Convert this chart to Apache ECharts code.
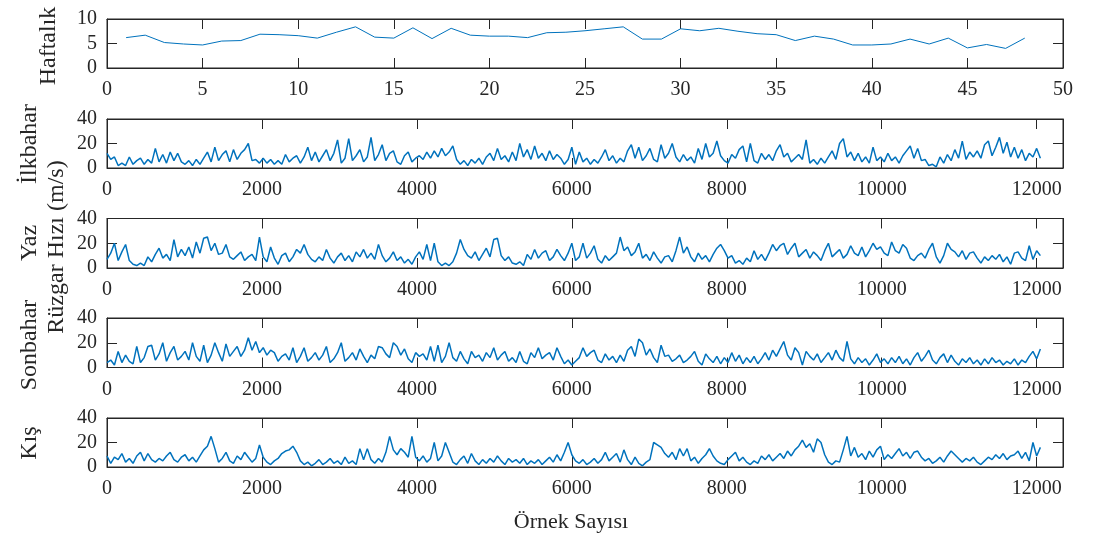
<!DOCTYPE html>
<html>
<head>
<meta charset="utf-8">
<script src="https://cdn.jsdelivr.net/npm/echarts@6/dist/echarts.min.js"></script>
<style>
html,body{margin:0;padding:0;background:#fff;}
#chart{width:1100px;height:545px;}
</style>
</head>
<body>
<div id="chart"></div>
<script>
// ---- data ----
const weeklyMeans = [6.2,6.7,5.2,4.9,4.7,5.5,5.6,6.9,6.8,6.6,6.1,7.3,8.4,6.3,6.1,8.2,6.0,8.1,6.7,6.5,6.5,6.2,7.2,7.3,
  7.6,8.0,8.4,5.9,5.9,8.0,7.6,8.1,7.5,7.0,6.8,5.6,6.5,5.9,4.7,4.7,4.9,5.9,4.9,6.1,4.1,4.8,4.0,6.1];

// one value read every SAMPLE_STEP samples
const SAMPLE_STEP = 48;

const springSpeeds = [
  12,7,9,2,4,2,9,3,6,8,3,7,4,16,5,11,4,13,6,12,5,
  3,6,2,7,3,8,13,5,17,6,11,14,5,15,7,12,15,20,6,7,4,
  8,4,7,3,6,3,11,5,8,10,4,9,17,6,13,5,10,15,6,12,23,
  4,8,24,6,10,15,5,9,25,6,11,19,6,12,14,5,3,10,13,5,8,
  10,7,13,8,14,9,16,10,13,18,7,3,6,2,7,4,8,3,9,12,6,
  16,7,10,5,13,6,20,9,15,7,18,8,12,6,14,7,11,8,3,7,17,
  3,13,5,8,3,7,4,9,15,6,10,4,8,5,14,19,8,17,6,10,16,
  7,5,19,8,12,20,9,5,11,6,9,4,16,7,20,9,12,22,10,6,4,
  11,8,15,18,5,20,6,4,12,7,11,6,14,19,9,12,5,8,11,7,23,
  4,7,3,8,4,9,14,7,20,24,9,13,6,12,5,9,4,17,6,9,5,
  12,6,9,4,10,14,18,8,16,6,7,2,3,1,9,4,11,6,15,8,22,
  7,13,9,14,8,19,22,10,17,25,12,21,9,17,8,15,6,12,9,16,8
];

const summerSpeeds = [
  7,12,20,6,13,19,6,3,2,4,2,9,5,11,16,8,11,6,23,9,15,
  10,17,8,21,12,24,25,14,20,11,12,19,9,7,10,13,6,9,11,6,25,
  9,5,17,8,3,10,12,5,9,15,12,19,11,7,5,9,6,15,8,4,9,
  12,6,10,5,13,9,15,8,12,7,19,10,5,8,13,6,9,4,7,3,9,
  13,7,19,6,20,5,2,4,2,5,12,23,15,10,8,13,6,11,16,9,23,
  24,10,6,9,4,3,5,2,11,7,15,8,12,14,6,9,15,10,6,12,20,
  6,9,20,8,12,18,7,4,10,6,9,12,25,14,17,10,13,20,8,11,6,
  13,8,4,9,10,5,14,25,12,17,9,5,12,7,10,5,11,16,19,14,8,
  10,4,6,3,8,5,14,7,11,6,12,19,14,18,20,11,16,20,9,12,15,
  8,13,10,6,14,20,9,12,15,8,11,18,12,10,17,9,14,20,15,17,12,
  10,21,14,12,19,16,8,6,10,12,8,15,20,9,4,10,20,15,13,9,14,
  7,12,13,8,4,9,6,10,7,11,5,9,3,12,13,8,6,18,7,14,10
];

const autumnSpeeds = [
  4,6,2,13,4,10,5,3,17,4,8,17,18,6,11,20,5,12,17,6,9,
  13,6,20,9,5,18,4,10,20,12,5,19,9,13,17,9,14,24,14,21,12,
  16,10,14,12,5,9,11,6,16,4,9,16,5,8,12,6,10,17,4,7,12,
  20,5,8,12,6,15,9,4,10,7,17,16,11,8,20,17,10,15,7,4,12,
  9,11,6,17,5,18,4,9,20,8,5,13,7,3,13,8,10,5,12,8,16,
  6,10,13,5,8,4,13,5,3,12,8,16,7,10,12,6,16,9,3,6,2,
  5,8,16,9,12,14,6,4,11,6,9,4,10,5,14,17,9,23,20,10,15,
  8,4,18,9,10,5,7,10,4,6,9,13,5,2,11,7,4,9,3,8,4,
  12,5,10,3,8,4,9,3,7,12,6,14,9,15,21,10,6,16,12,2,13,
  9,6,11,4,8,12,6,14,8,5,21,7,3,8,4,7,2,6,11,4,7,
  3,8,4,9,3,7,2,8,12,5,9,14,6,3,8,11,4,10,5,2,7,
  4,8,3,6,2,7,3,8,4,6,2,5,3,7,2,6,4,9,13,7,15
];

const winterSpeeds = [
  9,3,8,6,11,4,7,3,9,12,5,11,6,4,7,5,9,12,6,4,8,
  10,5,8,4,9,14,17,25,15,4,7,12,5,3,9,6,12,8,4,7,18,
  8,4,2,5,7,11,13,14,17,12,5,2,4,1,3,6,2,4,7,3,5,
  2,8,3,5,2,15,6,15,6,3,7,4,12,25,14,10,15,12,8,25,8,
  5,9,4,7,20,5,9,20,12,4,2,6,9,3,11,5,2,6,3,7,4,
  9,5,2,7,4,6,3,7,2,5,3,6,2,5,8,4,10,5,12,20,10,
  5,3,6,2,4,7,3,6,12,5,8,11,4,14,6,2,8,3,1,4,6,
  20,18,16,11,8,12,6,15,9,15,5,8,3,7,10,15,9,5,3,2,6,
  9,12,5,8,4,2,5,3,9,6,10,5,8,11,7,13,9,14,17,22,16,
  19,12,23,20,10,4,2,5,4,14,25,9,16,8,11,6,13,8,14,17,6,
  10,7,11,15,9,12,7,12,13,8,5,7,3,5,8,4,9,13,10,7,4,
  7,5,8,4,2,5,8,6,10,7,11,6,9,10,13,7,12,5,20,9,16
];

const weekTicks = {min: 0, max: 50, interval: 5};
const sampleTicks = {min: 0, max: 12340, interval: 2000};
const weekValueTicks = {min: 0, max: 10, interval: 5};
const speedTicks = {min: 0, max: 40, interval: 20};

const panelLabels = ['Haftalık', 'İlkbahar', 'Yaz', 'Sonbahar', 'Kış'];
const commonYLabel = 'Rüzgar Hızı (m/s)';
const commonXLabel = 'Örnek Sayısı';

// ---- chart ----
const AX = '#262626';
const FONT = '"Liberation Serif", "Times New Roman", serif';
const LINE = '#0072BD';

const panels = [
  {top: 19,  height: 49, x: weekTicks,   y: weekValueTicks, labelX: 49, labelY: 46},
  {top: 119, height: 49, x: sampleTicks, y: speedTicks, labelX: 30, labelY: 144},
  {top: 218.5, height: 49.5, x: sampleTicks, y: speedTicks, labelX: 30, labelY: 243},
  {top: 318, height: 49.5, x: sampleTicks, y: speedTicks, labelX: 30, labelY: 345},
  {top: 418, height: 49, x: sampleTicks, y: speedTicks, labelX: 30, labelY: 443}
];

const grid = [], xAxis = [], yAxis = [], graphic = [];
function txtStyle(text, size) {
  return {text: text, font: size + 'px ' + FONT, fill: AX,
    align: 'center', verticalAlign: 'middle', textAlign: 'center', textVerticalAlign: 'middle'};
}
panels.forEach((p, i) => {
  grid.push({left: 107, right: 37, top: p.top, height: p.height, containLabel: false,
    outerBoundsMode: 'none', show: true, borderColor: AX, borderWidth: 1, backgroundColor: 'transparent'});
  const iv = p.x.interval, yiv = p.y.interval;
  const tick = {show: true, inside: true, length: 10, lineStyle: {color: AX, width: 1}};
  const line = {show: true, onZero: false, lineStyle: {color: AX, width: 1}};
  xAxis.push({type: 'value', gridIndex: i, position: 'bottom', min: p.x.min, max: p.x.max, interval: iv,
    axisLine: line, axisTick: tick,
    axisLabel: {show: true, color: AX, fontFamily: FONT, fontSize: 20, margin: 12,
      formatter: v => (v % iv === 0 ? String(v) : '')},
    splitLine: {show: false}});
  xAxis.push({type: 'value', gridIndex: i, position: 'top', min: p.x.min, max: p.x.max, interval: iv,
    axisLine: line, axisTick: tick, axisLabel: {show: false}, splitLine: {show: false}});
  yAxis.push({type: 'value', gridIndex: i, position: 'left', min: p.y.min, max: p.y.max, interval: yiv,
    axisLine: line, axisTick: tick,
    axisLabel: {show: true, color: AX, fontFamily: FONT, fontSize: 20, margin: 10},
    splitLine: {show: false}});
  yAxis.push({type: 'value', gridIndex: i, position: 'right', min: p.y.min, max: p.y.max, interval: yiv,
    axisLine: line, axisTick: tick, axisLabel: {show: false}, splitLine: {show: false}});
  graphic.push({type: 'text', x: p.labelX, y: p.labelY, rotation: Math.PI / 2,
    style: txtStyle(panelLabels[i], 24)});
});
graphic.push({type: 'text', x: 57, y: 247, rotation: Math.PI / 2, style: txtStyle(commonYLabel, 24)});
graphic.push({type: 'text', x: 571, y: 522, style: txtStyle(commonXLabel, 22)});

function lineSeries(idx, data, w) {
  return {type: 'line', xAxisIndex: idx * 2, yAxisIndex: idx * 2, data: data,
    showSymbol: false, symbol: 'none', smooth: false, animation: false,
    lineStyle: {color: LINE, width: w}, z: 3};
}
const toPairs = arr => arr.map((v, i) => [i * SAMPLE_STEP, v]);

const series = [
  lineSeries(0, weeklyMeans.map((v, i) => [i + 1, v]), 1),
  lineSeries(1, toPairs(springSpeeds), 1.5),
  lineSeries(2, toPairs(summerSpeeds), 1.5),
  lineSeries(3, toPairs(autumnSpeeds), 1.5),
  lineSeries(4, toPairs(winterSpeeds), 1.5)
];

const chart = echarts.init(document.getElementById('chart'), null, {renderer: 'canvas'});
chart.setOption({backgroundColor: '#ffffff', animation: false, grid, xAxis, yAxis, series, graphic});
</script>
</body>
</html>
